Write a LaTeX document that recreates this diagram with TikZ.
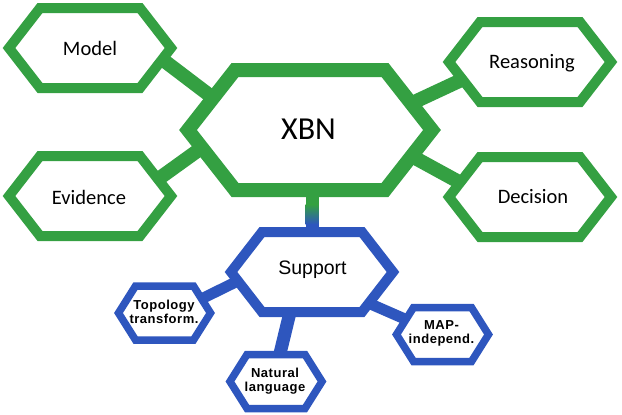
\documentclass[tikz,border=0pt]{standalone}
\usepackage{fontspec}
\setmainfont{Carlito}
\newfontfamily\arialfont{Liberation Sans}
\newfontfamily\smallfont[LetterSpace=4]{Liberation Sans}
\definecolor{hgreen}{RGB}{52,160,66}
\definecolor{hblue}{RGB}{46,86,190}
\newcommand\hexshape[6]{\draw[#6] ({#1-#3},#2) -- ({#1-#4},{#2-#5}) -- ({#1+#4},{#2-#5}) -- ({#1+#3},#2) -- ({#1+#4},{#2+#5}) -- ({#1-#4},{#2+#5}) -- cycle;}
\tikzset{
  greenhex/.style={draw=hgreen, line width=10pt, fill=white},
  xbnhex/.style={draw=hgreen, line width=14pt, fill=white},
  bluehex/.style={draw=hblue, line width=10pt, fill=white},
  smallhex/.style={draw=hblue, line width=7.5pt, fill=white},
  gconn/.style={draw=hgreen, line width=14pt},
  bconn/.style={draw=hblue, line width=11pt},
  biglbl/.style={font=\fontsize{20.5}{24}\selectfont, inner sep=0pt},
  xbnlbl/.style={font=\fontsize{32}{38}\selectfont, inner sep=0pt},
  suplbl/.style={font=\arialfont\fontsize{19.5}{23}\selectfont, inner sep=0pt},
  smalllbl/.style={font=\smallfont\bfseries\fontsize{13}{14}\selectfont, align=center, inner sep=0pt},
}
\begin{document}
\begin{tikzpicture}[x=1pt,y=-1pt]
\useasboundingbox (0,0) rectangle (622,415);
% connector end points
\coordinate (m1) at (150,50);   \coordinate (x1) at (225,107);
\coordinate (e1) at (150,185);  \coordinate (x2) at (225,131);
\coordinate (r1) at (470,76);   \coordinate (x3) at (395,111);
\coordinate (d1) at (470,188);  \coordinate (x4) at (395,147);
\coordinate (t1) at (185,307);  \coordinate (s1) at (250,275);
\coordinate (n1) at (276,370);  \coordinate (s2) at (293,300);
\coordinate (p1) at (430,330);  \coordinate (s3) at (350,295);
% connectors
\draw[gconn] (m1) -- (x1);
\draw[gconn] (e1) -- (x2);
\draw[gconn] (r1) -- (x3);
\draw[gconn] (d1) -- (x4);
\fill[hgreen] (305.5,185) rectangle (318.5,205);
\shade[top color=hgreen, bottom color=hblue] (305.5,204.5) rectangle (318.5,224.5);
\fill[hblue] (305.5,224) rectangle (318.5,240);
\draw[bconn] (t1) -- (s1);
\draw[bconn, line width=13pt] (n1) -- (s2);
\draw[bconn] (p1) -- (s3);
% hexagons
\hexshape{90}{48}{81}{50}{40}{greenhex}
\hexshape{90}{196}{81}{50}{40}{greenhex}
\hexshape{530}{62}{81}{50}{40}{greenhex}
\hexshape{530}{197}{81}{50}{40}{greenhex}
\hexshape{310}{130}{122}{75}{60}{xbnhex}
\hexshape{312}{272}{81}{50}{40}{bluehex}
\hexshape{164.5}{313}{46}{29}{27}{smallhex}
\hexshape{276}{381.5}{46}{29}{27}{smallhex}
\hexshape{442.5}{334.5}{46}{29}{27}{smallhex}
% labels
\node[biglbl] (model) at (90,48) {Model};
\node[biglbl] (evidence) at (89,197) {Evidence};
\node[biglbl] (reasoning) at (532,63) {Reasoning};
\node[biglbl] (decision) at (533,197) {Decision};
\node[xbnlbl] (xbn) at (308.5,129) {XBN};
\node[suplbl] (support) at (312.5,270) {Support};
\node[smalllbl] (topo) at (164,312) {Topology\\transform.};
\node[smalllbl] (natural) at (275,381) {Natural\\language};
\node[smalllbl] (map) at (441.5,333.5) {MAP-\\independ.};
\end{tikzpicture}
\end{document}
